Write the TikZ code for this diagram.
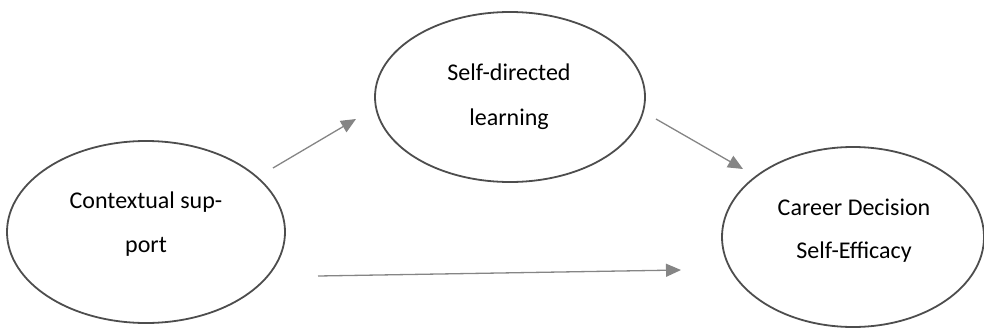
\documentclass[tikz,border=0pt]{standalone}
\usepackage{fontspec}
\setmainfont{Carlito}
\usetikzlibrary{shapes.geometric,arrows.meta}
\definecolor{ringgray}{HTML}{4D4D4D}
\definecolor{arrowgray}{HTML}{858585}
\tikzset{
  oval/.style={ellipse, draw=ringgray, line width=1.8pt, inner sep=0pt},
  lbl/.style={anchor=base, inner sep=0pt, font=\fontsize{24}{29}\selectfont, text=black},
  link/.style={draw=arrowgray, line width=1.3pt, -{Triangle[length=15pt,width=13pt]}}
}
\begin{document}
\begin{tikzpicture}[x=1pt,y=-1pt]
\useasboundingbox (0,0) rectangle (984,329);
% ellipses
\node[oval, minimum width=278pt, minimum height=182pt] (cs) at (146,232) {};
\node[oval, minimum width=270pt, minimum height=170pt] (sdl) at (510,97) {};
\node[oval, minimum width=262pt, minimum height=180pt] (cdse) at (853,237) {};
% labels
\node[lbl] (cs1) at (146,208) {Contextual sup-};
\node[lbl] (cs2) at (146,252) {port};
\node[lbl] (sdl1) at (509,81) {Self-directed};
\node[lbl] (sdl2) at (509,125) {learning};
\node[lbl] (cd1) at (854,215) {Career Decision};
\node[lbl] (cd2) at (854,258) {Self-Efficacy};
% arrow endpoints
\coordinate (a1s) at (273,168);
\coordinate (a1e) at (356,119);
\coordinate (a2s) at (656,119);
\coordinate (a2e) at (743,169);
\coordinate (a3s) at (318,276);
\coordinate (a3e) at (681,270);
\draw[link] (a1s) -- (a1e);
\draw[link] (a2s) -- (a2e);
\draw[link] (a3s) -- (a3e);
\end{tikzpicture}
\end{document}
